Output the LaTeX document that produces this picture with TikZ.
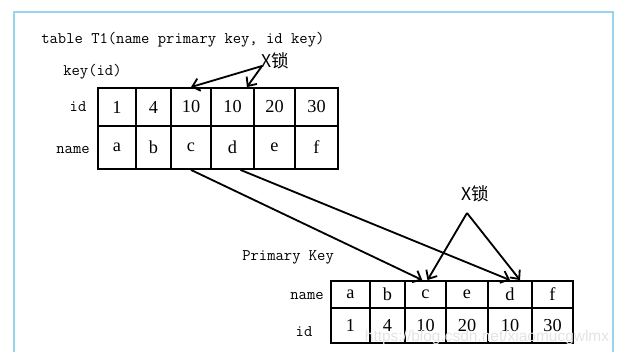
\documentclass[tikz,border=0pt]{standalone}
\usepackage{fontspec}
\setmainfont{Liberation Serif}
\newfontfamily\cjk{Noto Sans CJK SC}
\newfontfamily\wmfont{Liberation Sans}
\usepackage{tikz}
\usetikzlibrary{positioning,arrows.meta}
\definecolor{frameblue}{RGB}{150,214,236}

\begin{document}
\begin{tikzpicture}[x=0.025cm, y=-0.025cm, >={Straight Barb[length=5pt,width=9pt]},
  cell/.style={draw, line width=1.3pt, inner sep=0pt, font=\fontsize{13}{15}\selectfont},
  lbl/.style={font=\ttfamily\fontsize{11.5}{13}\selectfont, inner sep=0pt},
  lock/.style={font=\cjk\fontsize{12.5}{14}\selectfont, inner sep=0pt},
  link/.style={->, line width=1.3pt}]
  \useasboundingbox (0,0) rectangle (624,356);
  % screenshot frame
  \draw[frameblue, line width=1.5pt] (14,352) -- (14,12) -- (613,12) -- (613,352);

  \node[lbl, anchor=west] (title) at (41,40) {table T1(name primary key, id key)};
  \node[lbl, anchor=west] (keyid) at (63,72) {key(id)};

  % index on id
  \foreach \l/\r/\k/\n [count=\i] in {98/136/1/a, 136/171/4/b, 171/211/10/c,
      211/254/10/d, 254/295/20/e, 295/338/30/f}{
    \node[cell, minimum width={(\r-\l)*0.025cm}, minimum height=0.95cm]
      (tid\i) at ({(\l+\r)/2},107) {\k};
    \node[cell, minimum width={(\r-\l)*0.025cm}, minimum height=1.075cm]
      (tname\i) at ({(\l+\r)/2},147.5) {\n};
  }
  \node[lbl] (lid) at (78,107) {id};
  \node[lbl] (lname) at (73,150) {name};

  % primary key
  \node[lbl, anchor=west] (pk) at (242,257) {Primary Key};
  \foreach \l/\r/\n/\k [count=\i] in {331/370/a/1, 370/405/b/4, 405/446/c/10,
      446/488/e/20, 488/532/d/10, 532/573/f/30}{
    \node[cell, minimum width={(\r-\l)*0.025cm}, minimum height=0.675cm]
      (pn\i) at ({(\l+\r)/2},294.5) {\n};
    \node[cell, minimum width={(\r-\l)*0.025cm}, minimum height=0.875cm]
      (pid\i) at ({(\l+\r)/2},325.5) {\k};
  }
  \node[lbl] (lpname) at (307,296) {name};
  \node[lbl] (lpid) at (304,332) {id};

  % locks
  \node[lock] (lock1) at (275,61) {X锁};
  \coordinate (tip1) at (262,66);
  \draw[link] (tip1) -- (tid3.north);
  \draw[link] (tip1) -- ([xshift=0.36cm]tid4.north);

  \node[lock] (lock2) at (475,194) {X锁};
  \coordinate (tip2) at (467,213);
  \draw[link] (tip2) -- ([xshift=0.05cm]pn3.north);
  \draw[link] (tip2) -- ([xshift=0.25cm]pn5.north);

  \draw[link] (tname3.south) -- ([xshift=-0.08cm]pn3.north);
  \draw[link] ([xshift=0.2cm]tname4.south) -- (pn5.north);

  \node[font=\wmfont\fontsize{11}{13}\selectfont, text=gray!22, inner sep=0pt]
    (mark) at (487,337) {https://blog.csdn.net/xiaomucgwlmx};
\end{tikzpicture}
\end{document}
